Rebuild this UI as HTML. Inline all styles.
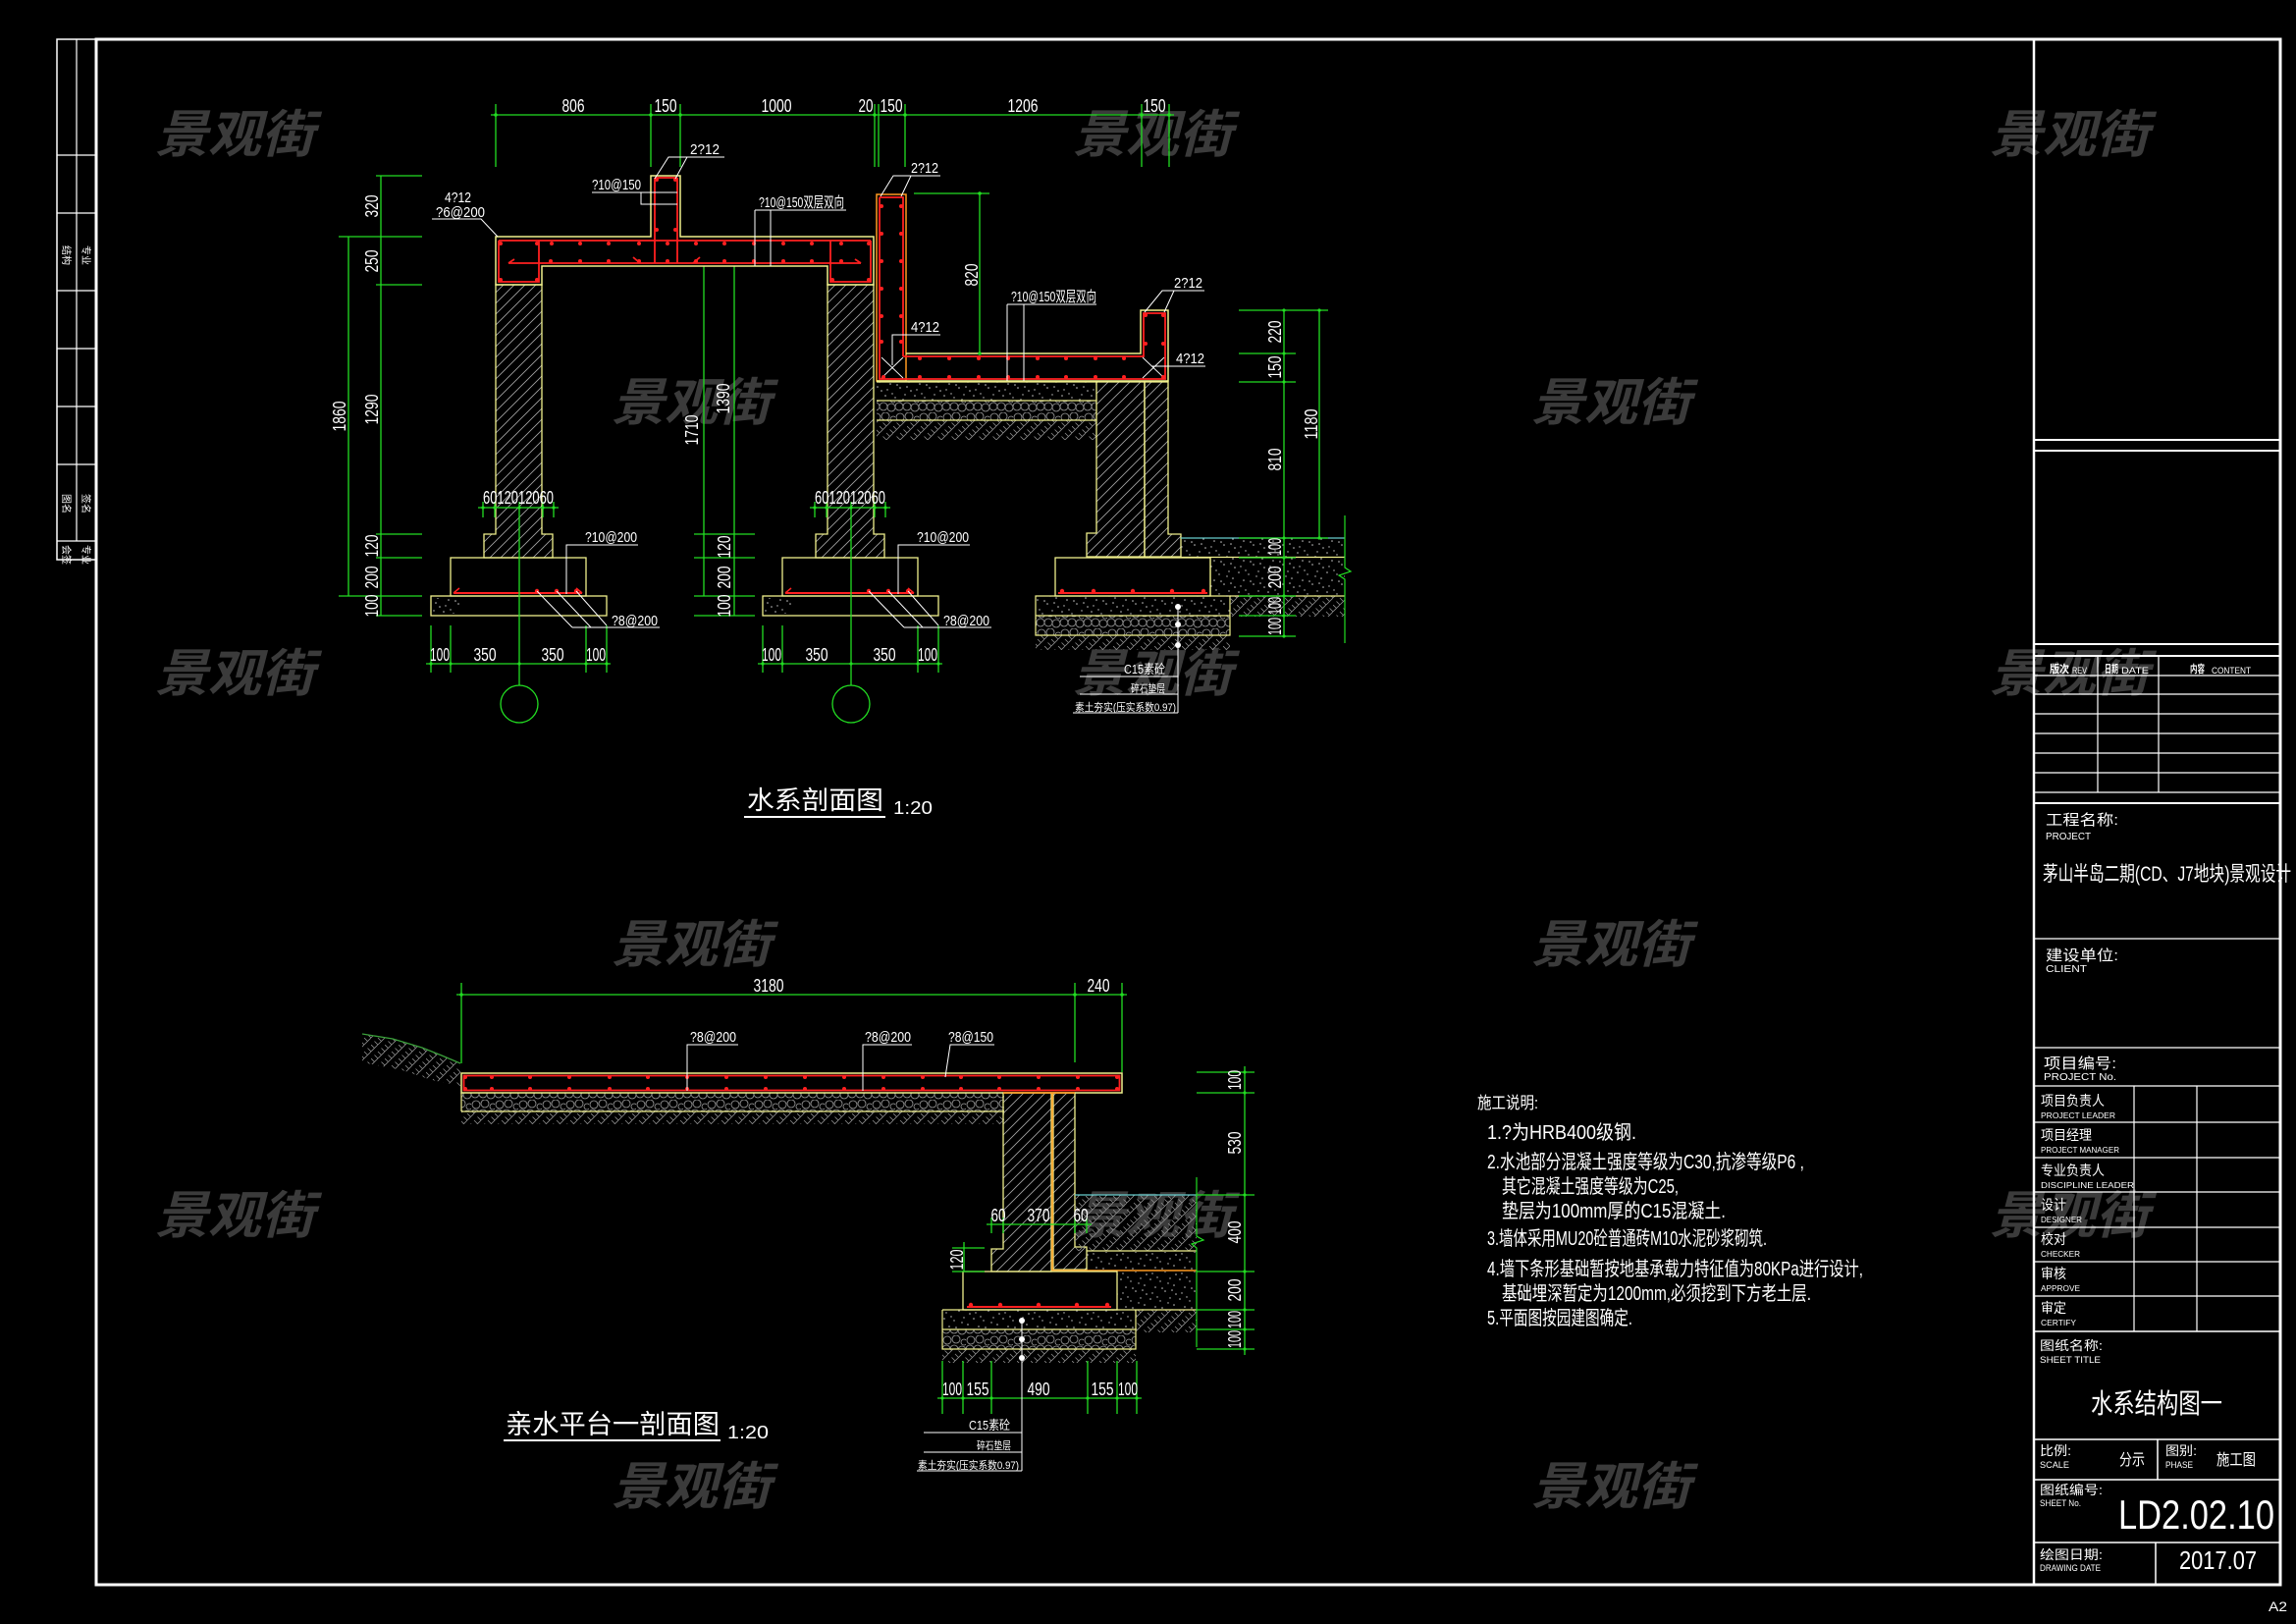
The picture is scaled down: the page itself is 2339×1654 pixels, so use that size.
<!DOCTYPE html>
<html><head><meta charset="utf-8">
<style>
html,body{margin:0;padding:0;background:#000;}
svg{display:block;}
text{font-family:"Liberation Sans","Noto Sans CJK SC",sans-serif;fill:#fff;}
.d{font-size:18px;}
.l{font-size:15px;}
.wm{fill:#3b3b3b;font-size:52px;font-style:italic;font-weight:bold;}
</style></head><body>
<svg width="2339" height="1654" viewBox="0 0 2339 1654" xmlns="http://www.w3.org/2000/svg">
<defs>
 <pattern id="hd" patternUnits="userSpaceOnUse" width="11" height="11">
  <path d="M0,11 L11,0 M-2,2 L2,-2 M9,13 L13,9" stroke="#a6a6a6" stroke-width="0.8"/>
 </pattern>
 <pattern id="hs" patternUnits="userSpaceOnUse" width="14" height="14">
  <path d="M0,7 L7,0 M7,14 L14,7 M0,0 L3.5,3.5 M7,7 L10.5,10.5 M3.5,10.5 L7,14 M10.5,3.5 L14,7" stroke="#8e8e8e" stroke-width="0.8" fill="none"/>
 </pattern>
 <pattern id="sp" patternUnits="userSpaceOnUse" width="30" height="20">
  <g fill="#c4c4c4">
   <circle cx="2" cy="3" r="0.8"/><circle cx="7" cy="11" r="0.8"/><circle cx="12" cy="5" r="0.7"/>
   <circle cx="17" cy="15" r="0.8"/><circle cx="22" cy="2" r="0.7"/><circle cx="26" cy="9" r="0.8"/>
   <circle cx="4" cy="17" r="0.7"/><circle cx="14" cy="12" r="0.8"/><circle cx="20" cy="7" r="0.7"/>
   <circle cx="28" cy="18" r="0.8"/><circle cx="9" cy="1" r="0.7"/><circle cx="24" cy="14" r="0.8"/>
  </g>
 </pattern>
 <pattern id="cb" patternUnits="userSpaceOnUse" width="24" height="20">
  <g stroke="#9c9c9c" stroke-width="0.8" fill="none">
   <circle cx="5" cy="5" r="4"/><circle cx="14" cy="4" r="4"/><circle cx="22" cy="7" r="3"/>
   <circle cx="4" cy="14" r="4"/><circle cx="12" cy="14" r="4"/><circle cx="20" cy="15" r="4"/>
  </g>
 </pattern>
</defs>
<rect width="2339" height="1654" fill="#000"/>

<!-- watermarks -->
<g class="wm" text-anchor="middle">
<text class="wm" x="239" y="155" textLength="162" lengthAdjust="spacingAndGlyphs">景观街</text>
<text class="wm" x="1174" y="155" textLength="162" lengthAdjust="spacingAndGlyphs">景观街</text>
<text class="wm" x="2108" y="155" textLength="162" lengthAdjust="spacingAndGlyphs">景观街</text>
<text class="wm" x="704" y="428" textLength="162" lengthAdjust="spacingAndGlyphs">景观街</text>
<text class="wm" x="1641" y="428" textLength="162" lengthAdjust="spacingAndGlyphs">景观街</text>
<text class="wm" x="239" y="704" textLength="162" lengthAdjust="spacingAndGlyphs">景观街</text>
<text class="wm" x="1174" y="704" textLength="162" lengthAdjust="spacingAndGlyphs">景观街</text>
<text class="wm" x="2108" y="704" textLength="162" lengthAdjust="spacingAndGlyphs">景观街</text>
<text class="wm" x="704" y="980" textLength="162" lengthAdjust="spacingAndGlyphs">景观街</text>
<text class="wm" x="1641" y="980" textLength="162" lengthAdjust="spacingAndGlyphs">景观街</text>
<text class="wm" x="239" y="1256" textLength="162" lengthAdjust="spacingAndGlyphs">景观街</text>
<text class="wm" x="1174" y="1256" textLength="162" lengthAdjust="spacingAndGlyphs">景观街</text>
<text class="wm" x="2108" y="1256" textLength="162" lengthAdjust="spacingAndGlyphs">景观街</text>
<text class="wm" x="704" y="1532" textLength="162" lengthAdjust="spacingAndGlyphs">景观街</text>
<text class="wm" x="1641" y="1532" textLength="162" lengthAdjust="spacingAndGlyphs">景观街</text>
</g>

<!-- ================= FRAME ================= -->
<g stroke="#fff" fill="none">
 <path d="M98,40 H2323 V1614 H98 Z" stroke-width="3"/>
 <rect x="58" y="40" width="40" height="530" stroke-width="1.5"/>
 <line x1="78" y1="40" x2="78" y2="551" stroke-width="1.2"/>
 <path d="M58,158 H98 M58,217 H98 M58,296 H98 M58,355 H98 M58,414 H98 M58,473 H98 M58,551 H98" stroke-width="1.2"/>
 <line x1="2072" y1="40" x2="2072" y2="1614" stroke-width="2.5"/>
 <path d="M2072,448 H2323 M2072,459 H2323 M2072,656 H2323 M2072,668 H2323" stroke-width="2"/>
 <path d="M2072,688 H2323 M2072,707 H2323 M2072,727 H2323 M2072,747 H2323 M2072,767 H2323 M2072,787 H2323 M2072,807 H2323" stroke-width="1.2"/>
 <path d="M2072,818 H2323" stroke-width="2"/>
 <path d="M2137,668 V807 M2199,668 V807" stroke-width="1.2"/>
 <path d="M2072,956 H2323 M2072,1067 H2323 M2072,1106 H2323" stroke-width="1.2"/>
 <path d="M2072,1143 H2323 M2072,1179 H2323 M2072,1214 H2323 M2072,1250 H2323 M2072,1285 H2323 M2072,1320 H2323" stroke-width="1.2"/>
 <path d="M2072,1356 H2323 M2072,1466 H2323 M2072,1507 H2323 M2072,1571 H2323" stroke-width="1.5"/>
 <path d="M2174,1106 V1356 M2238,1106 V1356" stroke-width="1.2"/>
 <path d="M2198,1466 V1507 M2196,1571 V1614" stroke-width="1.5"/>
</g>

<!-- left strip texts -->
<g font-size="10">
 <text x="0" y="0" transform="translate(64,250) rotate(90)">结构</text>
 <text x="0" y="0" transform="translate(84,250) rotate(90)">专业</text>
 <text x="0" y="0" transform="translate(64,503) rotate(90)">图名</text>
 <text x="0" y="0" transform="translate(84,503) rotate(90)">签名</text>
 <text x="0" y="0" transform="translate(64,555) rotate(90)">会签</text>
 <text x="0" y="0" transform="translate(84,555) rotate(90)">专业</text>
</g>

<!-- ================= TITLE BLOCK TEXT ================= -->
<g>
 <text x="2088" y="685" font-size="11" font-weight="bold" textLength="20" lengthAdjust="spacingAndGlyphs">版次</text><text x="2111" y="686" font-size="9" textLength="15" lengthAdjust="spacingAndGlyphs">REV</text>
 <text x="2144" y="685" font-size="11" font-weight="bold" textLength="14" lengthAdjust="spacingAndGlyphs">日期</text><text x="2161" y="686" font-size="9" textLength="28" lengthAdjust="spacingAndGlyphs">DATE</text>
 <text x="2231" y="685" font-size="11" font-weight="bold" textLength="15" lengthAdjust="spacingAndGlyphs">内容</text><text x="2253" y="686" font-size="9" textLength="40" lengthAdjust="spacingAndGlyphs">CONTENT</text>

 <text x="2084" y="840" font-size="15" textLength="74" lengthAdjust="spacingAndGlyphs">工程名称:</text>
 <text x="2084" y="855" font-size="10" textLength="46" lengthAdjust="spacingAndGlyphs">PROJECT</text>
 <text x="2081" y="897" font-size="21" textLength="253" lengthAdjust="spacingAndGlyphs">茅山半岛二期(CD、J7地块)景观设计</text>

 <text x="2084" y="978" font-size="15" textLength="74" lengthAdjust="spacingAndGlyphs">建设单位:</text>
 <text x="2084" y="990" font-size="10" textLength="42" lengthAdjust="spacingAndGlyphs">CLIENT</text>

 <text x="2082" y="1088" font-size="15" textLength="74" lengthAdjust="spacingAndGlyphs">项目编号:</text>
 <text x="2082" y="1100" font-size="10" textLength="74" lengthAdjust="spacingAndGlyphs">PROJECT No.</text>

 <g font-size="14">
  <text x="2079" y="1126" textLength="65" lengthAdjust="spacingAndGlyphs">项目负责人</text>
  <text x="2079" y="1161" textLength="52" lengthAdjust="spacingAndGlyphs">项目经理</text>
  <text x="2079" y="1197" textLength="65" lengthAdjust="spacingAndGlyphs">专业负责人</text>
  <text x="2079" y="1232" textLength="26" lengthAdjust="spacingAndGlyphs">设计</text>
  <text x="2079" y="1267" textLength="26" lengthAdjust="spacingAndGlyphs">校对</text>
  <text x="2079" y="1302" textLength="26" lengthAdjust="spacingAndGlyphs">审核</text>
  <text x="2079" y="1337" textLength="26" lengthAdjust="spacingAndGlyphs">审定</text>
 </g>
 <g font-size="8">
  <text x="2079" y="1139" textLength="76" lengthAdjust="spacingAndGlyphs">PROJECT LEADER</text>
  <text x="2079" y="1174" textLength="80" lengthAdjust="spacingAndGlyphs">PROJECT MANAGER</text>
  <text x="2079" y="1210" textLength="95" lengthAdjust="spacingAndGlyphs">DISCIPLINE LEADER</text>
  <text x="2079" y="1245" textLength="42" lengthAdjust="spacingAndGlyphs">DESIGNER</text>
  <text x="2079" y="1280" textLength="40" lengthAdjust="spacingAndGlyphs">CHECKER</text>
  <text x="2079" y="1315" textLength="40" lengthAdjust="spacingAndGlyphs">APPROVE</text>
  <text x="2079" y="1350" textLength="36" lengthAdjust="spacingAndGlyphs">CERTIFY</text>
 </g>

 <text x="2078" y="1375" font-size="13" textLength="64" lengthAdjust="spacingAndGlyphs">图纸名称:</text>
 <text x="2078" y="1388" font-size="9" textLength="62" lengthAdjust="spacingAndGlyphs">SHEET TITLE</text>
 <text x="2130" y="1439" font-size="28" textLength="134" lengthAdjust="spacingAndGlyphs">水系结构图一</text>

 <text x="2078" y="1482" font-size="13" textLength="32" lengthAdjust="spacingAndGlyphs">比例:</text>
 <text x="2078" y="1495" font-size="9" textLength="30" lengthAdjust="spacingAndGlyphs">SCALE</text>
 <text x="2159" y="1492" font-size="16" textLength="26" lengthAdjust="spacingAndGlyphs">分示</text>
 <text x="2206" y="1482" font-size="13" textLength="32" lengthAdjust="spacingAndGlyphs">图别:</text>
 <text x="2206" y="1495" font-size="9" textLength="28" lengthAdjust="spacingAndGlyphs">PHASE</text>
 <text x="2258" y="1492" font-size="16" textLength="40" lengthAdjust="spacingAndGlyphs">施工图</text>

 <text x="2078" y="1522" font-size="13" textLength="64" lengthAdjust="spacingAndGlyphs">图纸编号:</text>
 <text x="2078" y="1534" font-size="9" textLength="42" lengthAdjust="spacingAndGlyphs">SHEET No.</text>
 <text x="2158" y="1557" font-size="42" fill="#e8e8e8" textLength="159" lengthAdjust="spacingAndGlyphs">LD2.02.10</text>

 <text x="2078" y="1588" font-size="13" textLength="64" lengthAdjust="spacingAndGlyphs">绘图日期:</text>
 <text x="2078" y="1600" font-size="9" textLength="62" lengthAdjust="spacingAndGlyphs">DRAWING DATE</text>
 <text x="2220" y="1598" font-size="26" fill="#e8e8e8" textLength="79" lengthAdjust="spacingAndGlyphs">2017.07</text>

 <text x="2311" y="1641" font-size="14" textLength="19" lengthAdjust="spacingAndGlyphs">A2</text>
</g>

<!-- ================= SECTION 1 : 水系剖面图 ================= -->
<g stroke="#22dd22" stroke-width="1.3" fill="none">
 <line x1="500" y1="117" x2="1196" y2="117"/>
 <path d="M505,106 V170 M663,106 V170 M693,106 V170 M891,106 V170 M895,106 V170 M922,106 V170 M1163,106 V170 M1191,106 V170"/>
</g>
<g fill="#22dd22"><circle cx="505" cy="117" r="1.8"/><circle cx="663" cy="117" r="1.8"/><circle cx="693" cy="117" r="1.8"/><circle cx="891" cy="117" r="1.8"/><circle cx="922" cy="117" r="1.8"/><circle cx="1163" cy="117" r="1.8"/><circle cx="1191" cy="117" r="1.8"/></g>
<g class="d" text-anchor="middle">
 <text class="d" x="584" y="114" textLength="23" lengthAdjust="spacingAndGlyphs">806</text>
 <text class="d" x="678" y="114" textLength="23" lengthAdjust="spacingAndGlyphs">150</text>
 <text class="d" x="791" y="114" textLength="31" lengthAdjust="spacingAndGlyphs">1000</text>
 <text class="d" x="882" y="114" textLength="15" lengthAdjust="spacingAndGlyphs">20</text>
 <text class="d" x="908" y="114" textLength="23" lengthAdjust="spacingAndGlyphs">150</text>
 <text class="d" x="1042" y="114" textLength="31" lengthAdjust="spacingAndGlyphs">1206</text>
 <text class="d" x="1176" y="114" textLength="23" lengthAdjust="spacingAndGlyphs">150</text>
</g>

<g stroke="#22dd22" stroke-width="1.3" fill="none">
 <path d="M355,241 V607 M388,179 V627"/>
 <path d="M383,179 H430 M345,241 H430 M383,290 H430 M383,544 H430 M383,568 H430 M345,607 H430 M383,627 H430"/>
 <path d="M717,271 V607 M748,271 V627"/>
 <path d="M707,544 H769 M707,568 H769 M707,607 H769 M707,627 H769"/>
</g>
<g class="d" text-anchor="middle">
 <text class="d" transform="translate(385,210) rotate(-90)" textLength="23" lengthAdjust="spacingAndGlyphs">320</text>
 <text class="d" transform="translate(385,266) rotate(-90)" textLength="23" lengthAdjust="spacingAndGlyphs">250</text>
 <text class="d" transform="translate(385,417) rotate(-90)" textLength="31" lengthAdjust="spacingAndGlyphs">1290</text>
 <text class="d" transform="translate(385,556) rotate(-90)" textLength="23" lengthAdjust="spacingAndGlyphs">120</text>
 <text class="d" transform="translate(385,588) rotate(-90)" textLength="23" lengthAdjust="spacingAndGlyphs">200</text>
 <text class="d" transform="translate(385,617) rotate(-90)" textLength="23" lengthAdjust="spacingAndGlyphs">100</text>
 <text class="d" transform="translate(352,424) rotate(-90)" textLength="31" lengthAdjust="spacingAndGlyphs">1860</text>
 <text class="d" transform="translate(744,557) rotate(-90)" textLength="23" lengthAdjust="spacingAndGlyphs">120</text>
 <text class="d" transform="translate(744,588) rotate(-90)" textLength="23" lengthAdjust="spacingAndGlyphs">200</text>
 <text class="d" transform="translate(744,617) rotate(-90)" textLength="23" lengthAdjust="spacingAndGlyphs">100</text>
 <text class="d" transform="translate(711,438) rotate(-90)" textLength="31" lengthAdjust="spacingAndGlyphs">1710</text>
 <text class="d" transform="translate(743,406) rotate(-90)" textLength="31" lengthAdjust="spacingAndGlyphs">1390</text>
</g>

<g id="col1">
 <path d="M505,290 L552,290 L552,544 L563,544 L563,568 L493,568 L493,544 L505,544 Z" fill="url(#hd)" stroke="#f0f08c" stroke-width="1.3"/>
 <rect x="459" y="568" width="138" height="39" fill="none" stroke="#f0f08c" stroke-width="1.3"/>
 <rect x="439" y="607" width="179" height="20" fill="none" stroke="#f0f08c" stroke-width="1.3"/>
 <rect x="441" y="609" width="30" height="16" fill="url(#sp)"/>
 <path d="M462,604 H593" stroke="#ff2020" stroke-width="2"/>
 <path d="M462,604 L468,599 M593,604 L587,599" stroke="#ff2020" stroke-width="1.5"/>
 <g fill="#ff2020"><circle cx="547" cy="602" r="2.2"/><circle cx="567" cy="602" r="2.2"/><circle cx="587" cy="602" r="2.2"/></g>
 <g stroke="#22dd22" stroke-width="1.3" fill="none">
  <path d="M487,517 H569"/>
  <path d="M492,511 V527 M504,511 V527 M553,511 V527 M564,511 V527"/>
  <path d="M529,511 V698"/>
  <circle cx="529" cy="717" r="19"/>
  <path d="M434,676 H622"/>
  <path d="M439,637 V685 M459,637 V685 M597,637 V685 M618,637 V685"/>
 </g>
 <g fill="#22dd22"><circle cx="492" cy="517" r="1.6"/><circle cx="504" cy="517" r="1.6"/><circle cx="529" cy="517" r="1.6"/><circle cx="553" cy="517" r="1.6"/><circle cx="564" cy="517" r="1.6"/><circle cx="439" cy="676" r="1.6"/><circle cx="459" cy="676" r="1.6"/><circle cx="529" cy="676" r="1.6"/><circle cx="597" cy="676" r="1.6"/><circle cx="618" cy="676" r="1.6"/></g>
 <text class="d" x="528" y="513" text-anchor="middle" textLength="72" lengthAdjust="spacingAndGlyphs">6012012060</text>
 <text class="d" x="448" y="673" text-anchor="middle" textLength="20" lengthAdjust="spacingAndGlyphs">100</text>
 <text class="d" x="494" y="673" text-anchor="middle" textLength="23" lengthAdjust="spacingAndGlyphs">350</text>
 <text class="d" x="563" y="673" text-anchor="middle" textLength="23" lengthAdjust="spacingAndGlyphs">350</text>
 <text class="d" x="607" y="673" text-anchor="middle" textLength="20" lengthAdjust="spacingAndGlyphs">100</text>
 <g stroke="#fff" stroke-width="1" fill="none">
  <path d="M577,605 V555 H650"/>
  <path d="M547,602 L583,639 M567,602 L602,639 M587,602 L618,637 M583,639 H672"/>
 </g>
 <text class="l" x="596" y="552" textLength="53" lengthAdjust="spacingAndGlyphs">?10@200</text>
 <text class="l" x="623" y="637" textLength="47" lengthAdjust="spacingAndGlyphs">?8@200</text>
</g>
<use href="#col1" transform="translate(338,0)"/>

<path d="M505,241 L663,241 L663,179 L693,179 L693,241 L890,241 L890,290 L843,290 L843,271 L552,271 L552,290 L505,290 Z" fill="none" stroke="#f0f08c" stroke-width="1.5"/>
<g stroke="#ff2020" stroke-width="1.8" fill="none">
 <path d="M508,245 H887 M508,245 V287 H549 V245 M846,245 V287 H887 V245"/>
 <path d="M518,268 H877"/>
 <path d="M667,181 V268 M690,181 V268 M667,181 H690"/>
 <path d="M645,262 L652,268 M713,262 L706,268 M518,268 L524,264 M877,268 L871,264"/>
</g>
<g fill="#ff2020">
 <circle cx="510" cy="248" r="2"/><circle cx="547" cy="248" r="2"/><circle cx="562" cy="248" r="2"/><circle cx="591" cy="248" r="2"/><circle cx="620" cy="248" r="2"/><circle cx="651" cy="248" r="2"/><circle cx="680" cy="248" r="2"/><circle cx="709" cy="248" r="2"/><circle cx="738" cy="248" r="2"/><circle cx="768" cy="248" r="2"/><circle cx="798" cy="248" r="2"/><circle cx="827" cy="248" r="2"/><circle cx="857" cy="248" r="2"/><circle cx="885" cy="248" r="2"/>
 <circle cx="561" cy="266" r="2"/><circle cx="591" cy="266" r="2"/><circle cx="620" cy="266" r="2"/><circle cx="651" cy="266" r="2"/><circle cx="680" cy="266" r="2"/><circle cx="709" cy="266" r="2"/><circle cx="738" cy="266" r="2"/><circle cx="768" cy="266" r="2"/><circle cx="798" cy="266" r="2"/><circle cx="827" cy="266" r="2"/><circle cx="857" cy="266" r="2"/>
 <circle cx="510" cy="285" r="2"/><circle cx="547" cy="285" r="2"/><circle cx="848" cy="285" r="2"/><circle cx="885" cy="285" r="2"/>
 <circle cx="669" cy="183" r="2"/><circle cx="688" cy="183" r="2"/><circle cx="669" cy="234" r="2"/><circle cx="688" cy="234" r="2"/>
</g>
<g stroke="#fff" stroke-width="1" fill="none">
 <path d="M667,182 L681,160 H738 M688,182 L700,160"/>
 <path d="M603,196 H690 M653,196 V208 H690"/>
 <path d="M440,223 H490 L507,241"/>
 <path d="M769,214 H862 M769,214 V271 M785,214 V271"/>
</g>
<text class="l" x="703" y="157" textLength="30" lengthAdjust="spacingAndGlyphs">2?12</text>
<text class="l" x="603" y="193" textLength="50" lengthAdjust="spacingAndGlyphs">?10@150</text>
<text class="l" x="453" y="206" textLength="27" lengthAdjust="spacingAndGlyphs">4?12</text>
<text class="l" x="444" y="221" textLength="50" lengthAdjust="spacingAndGlyphs">?6@200</text>
<text class="l" x="773" y="211" textLength="87" lengthAdjust="spacingAndGlyphs">?10@150双层双向</text>

<g>
 <rect x="893" y="198" width="30" height="190" fill="none" stroke="#ff9a20" stroke-width="1.5"/>
 <path d="M923,360 L1162,360 L1162,316 L1190,316 L1190,388 L893,388" fill="none" stroke="#f0f08c" stroke-width="1.5"/>
 <g stroke="#ff2020" stroke-width="1.8" fill="none">
  <path d="M896,201 H920 V363 M896,201 V386 H1187 V319 H1165 V363 H920"/>
 </g>
 <g stroke="#fff" stroke-width="0.9">
  <path d="M898,364 L920,385 M920,364 L898,385 M1164,364 L1186,385 M1186,364 L1164,385"/>
 </g>
 <g fill="#ff2020">
  <circle cx="898" cy="210" r="2"/><circle cx="918" cy="210" r="2"/><circle cx="898" cy="238" r="2"/><circle cx="918" cy="238" r="2"/><circle cx="898" cy="266" r="2"/><circle cx="918" cy="266" r="2"/><circle cx="898" cy="294" r="2"/><circle cx="918" cy="294" r="2"/><circle cx="898" cy="322" r="2"/><circle cx="918" cy="322" r="2"/><circle cx="898" cy="348" r="2"/><circle cx="918" cy="348" r="2"/>
  <circle cx="937" cy="365" r="2"/><circle cx="967" cy="365" r="2"/><circle cx="997" cy="365" r="2"/><circle cx="1027" cy="365" r="2"/><circle cx="1057" cy="365" r="2"/><circle cx="1086" cy="365" r="2"/><circle cx="1116" cy="365" r="2"/><circle cx="1145" cy="365" r="2"/>
  <circle cx="900" cy="384" r="2"/><circle cx="937" cy="384" r="2"/><circle cx="967" cy="384" r="2"/><circle cx="997" cy="384" r="2"/><circle cx="1027" cy="384" r="2"/><circle cx="1057" cy="384" r="2"/><circle cx="1086" cy="384" r="2"/><circle cx="1116" cy="384" r="2"/><circle cx="1145" cy="384" r="2"/><circle cx="1185" cy="384" r="2"/>
  <circle cx="1167" cy="321" r="2"/><circle cx="1185" cy="321" r="2"/><circle cx="1167" cy="350" r="2"/><circle cx="1185" cy="350" r="2"/>
 </g>
 <rect x="893" y="389" width="224" height="19" fill="url(#sp)"/>
 <rect x="893" y="408" width="224" height="20" fill="url(#cb)"/>
 <rect x="893" y="428" width="224" height="20" fill="url(#hs)"/>
 <path d="M893,389 H1117 M893,408 H1117 M893,428 H1117" stroke="#f0f08c" stroke-width="1.2"/>
 <path d="M1117,389 L1166,389 L1166,567 L1107,567 L1107,543 L1117,543 Z" fill="url(#hd)" stroke="#f0f08c" stroke-width="1.3"/>
 <path d="M1166,389 L1190,389 L1190,544 L1203,544 L1203,567 L1166,567 Z" fill="url(#hd)" stroke="#f0f08c" stroke-width="1.3"/>
 <rect x="1075" y="568" width="158" height="39" fill="none" stroke="#f0f08c" stroke-width="1.3"/>
 <path d="M1078,604 H1230" stroke="#ff2020" stroke-width="2"/>
 <g fill="#ff2020"><circle cx="1082" cy="602" r="2.2"/><circle cx="1114" cy="602" r="2.2"/><circle cx="1154" cy="602" r="2.2"/><circle cx="1194" cy="602" r="2.2"/><circle cx="1226" cy="602" r="2.2"/></g>
 <rect x="1055" y="607" width="198" height="20" fill="url(#sp)"/>
 <rect x="1055" y="627" width="198" height="20" fill="url(#cb)"/>
 <rect x="1055" y="647" width="198" height="15" fill="url(#hs)"/>
 <path d="M1055,607 H1253 V647 H1055 Z M1055,627 H1253" fill="none" stroke="#f0f08c" stroke-width="1.2"/>
 <rect x="1203" y="548" width="167" height="19" fill="url(#sp)"/>
 <rect x="1233" y="568" width="137" height="39" fill="url(#sp)"/>
 <rect x="1253" y="607" width="117" height="21" fill="url(#hs)"/>
 <path d="M1203,548 H1370" stroke="#66cccc" stroke-width="1.2"/>
 <path d="M1190,567.5 H1370 M1233,568 V607 M1253,607 H1370" stroke="#f0f08c" stroke-width="1.2" fill="none"/>
 <path d="M1370,525 V578 L1376,582 L1364,586 L1370,590 V655" stroke="#22dd22" stroke-width="1.2" fill="none"/>
</g>
<g stroke="#fff" stroke-width="1" fill="none">
 <path d="M897,200 L910,179 H958 M918,200 L928,179"/>
 <path d="M909,372 V341 H958"/>
 <path d="M1173,373 H1228"/>
 <path d="M1166,318 L1184,296 H1227 M1186,318 L1196,296"/>
 <path d="M1026,310 H1117 M1026,310 V388 M1043,310 V388"/>
</g>
<text class="l" x="928" y="176" textLength="28" lengthAdjust="spacingAndGlyphs">2?12</text>
<text class="l" x="928" y="338" textLength="29" lengthAdjust="spacingAndGlyphs">4?12</text>
<text class="l" x="1198" y="370" textLength="29" lengthAdjust="spacingAndGlyphs">4?12</text>
<text class="l" x="1196" y="293" textLength="29" lengthAdjust="spacingAndGlyphs">2?12</text>
<text class="l" x="1030" y="307" textLength="87" lengthAdjust="spacingAndGlyphs">?10@150双层双向</text>

<g stroke="#22dd22" stroke-width="1.3" fill="none">
 <path d="M998,197 V360 M931,197 H1008"/>
 <path d="M1308,316 V648 M1344,316 V548"/>
 <path d="M1262,316 H1353 M1262,360 H1320 M1262,389 H1320 M1262,548 H1353 M1262,568 H1320 M1262,607 H1320 M1262,627 H1320 M1262,648 H1320"/>
</g>
<g fill="#22dd22"><circle cx="998" cy="197" r="1.8"/><circle cx="998" cy="360" r="1.8"/><circle cx="1308" cy="316" r="1.6"/><circle cx="1308" cy="360" r="1.6"/><circle cx="1308" cy="389" r="1.6"/><circle cx="1308" cy="548" r="1.6"/><circle cx="1308" cy="568" r="1.6"/><circle cx="1308" cy="607" r="1.6"/><circle cx="1308" cy="627" r="1.6"/><circle cx="1308" cy="648" r="1.6"/><circle cx="1344" cy="316" r="1.6"/><circle cx="1344" cy="548" r="1.6"/></g>
<g class="d" text-anchor="middle">
 <text class="d" transform="translate(996,280) rotate(-90)" textLength="23" lengthAdjust="spacingAndGlyphs">820</text>
 <text class="d" transform="translate(1305,338) rotate(-90)" textLength="23" lengthAdjust="spacingAndGlyphs">220</text>
 <text class="d" transform="translate(1305,374) rotate(-90)" textLength="23" lengthAdjust="spacingAndGlyphs">150</text>
 <text class="d" transform="translate(1305,468) rotate(-90)" textLength="23" lengthAdjust="spacingAndGlyphs">810</text>
 <text class="d" transform="translate(1305,557) rotate(-90)" textLength="18" lengthAdjust="spacingAndGlyphs">100</text>
 <text class="d" transform="translate(1305,588) rotate(-90)" textLength="23" lengthAdjust="spacingAndGlyphs">200</text>
 <text class="d" transform="translate(1305,617) rotate(-90)" textLength="18" lengthAdjust="spacingAndGlyphs">100</text>
 <text class="d" transform="translate(1305,638) rotate(-90)" textLength="18" lengthAdjust="spacingAndGlyphs">100</text>
 <text class="d" transform="translate(1342,432) rotate(-90)" textLength="31" lengthAdjust="spacingAndGlyphs">1180</text>
</g>
<g stroke="#fff" stroke-width="1" fill="none">
 <path d="M1200,618 V726 M1100,689 H1200 M1100,707 H1200 M1093,726 H1200"/>
</g>
<g fill="#fff"><circle cx="1200" cy="618" r="3"/><circle cx="1200" cy="636" r="3"/><circle cx="1200" cy="657" r="3"/></g>
<text x="1145" y="686" font-size="13" textLength="42" lengthAdjust="spacingAndGlyphs">C15素砼</text>
<text x="1152" y="705" font-size="11" textLength="35" lengthAdjust="spacingAndGlyphs">碎石垫层</text>
<text x="1095" y="724" font-size="11" textLength="103" lengthAdjust="spacingAndGlyphs">素土夯实(压实系数0.97)</text>

<text x="761" y="824" font-size="26" textLength="139" lengthAdjust="spacingAndGlyphs">水系剖面图</text>
<line x1="758" y1="832" x2="902" y2="832" stroke="#fff" stroke-width="2"/>
<text x="910" y="829" font-size="18" textLength="40" lengthAdjust="spacingAndGlyphs">1:20</text>

<!-- ================= SECTION 2 ================= -->
<g stroke="#22dd22" stroke-width="1.3" fill="none">
 <path d="M465,1013 H1148"/>
 <path d="M470,1001 V1083 M1095,1001 V1082 M1143,1001 V1092"/>
</g>
<g fill="#22dd22"><circle cx="470" cy="1013" r="1.8"/><circle cx="1095" cy="1013" r="1.8"/><circle cx="1143" cy="1013" r="1.8"/></g>
<text class="d" x="783" y="1010" text-anchor="middle" textLength="31" lengthAdjust="spacingAndGlyphs">3180</text>
<text class="d" x="1119" y="1010" text-anchor="middle" textLength="23" lengthAdjust="spacingAndGlyphs">240</text>

<path d="M369,1053 L400,1058 L430,1067 L450,1075 L469,1083 L469,1106 L440,1100 L410,1090 L369,1082 Z" fill="url(#hs)"/>
<path d="M369,1053 L400,1058 L430,1067 L450,1075 L469,1083" fill="none" stroke="#3aa03a" stroke-width="1.3"/>

<rect x="470" y="1113" width="553" height="19" fill="url(#cb)"/>
<rect x="470" y="1132" width="553" height="13" fill="url(#hs)"/>
<path d="M470,1132 H1023 M470,1113 V1132" stroke="#f0f08c" stroke-width="1.2" fill="none"/>
<rect x="470" y="1093" width="673" height="20" fill="none" stroke="#f0f08c" stroke-width="1.5"/>
<rect x="472.5" y="1095.5" width="668" height="15" fill="none" stroke="#ff2020" stroke-width="1.8"/>
<g fill="#ff2020">
 <circle cx="474" cy="1097" r="2"/><circle cx="501" cy="1097" r="2"/><circle cx="540" cy="1097" r="2"/><circle cx="580" cy="1097" r="2"/><circle cx="621" cy="1097" r="2"/><circle cx="660" cy="1097" r="2"/><circle cx="700" cy="1097" r="2"/><circle cx="740" cy="1097" r="2"/><circle cx="780" cy="1097" r="2"/><circle cx="820" cy="1097" r="2"/><circle cx="860" cy="1097" r="2"/><circle cx="900" cy="1097" r="2"/><circle cx="940" cy="1097" r="2"/><circle cx="979" cy="1097" r="2"/><circle cx="1018" cy="1097" r="2"/><circle cx="1058" cy="1097" r="2"/><circle cx="1098" cy="1097" r="2"/><circle cx="1138" cy="1097" r="2"/>
 <circle cx="474" cy="1109" r="2"/><circle cx="501" cy="1109" r="2"/><circle cx="540" cy="1109" r="2"/><circle cx="580" cy="1109" r="2"/><circle cx="621" cy="1109" r="2"/><circle cx="660" cy="1109" r="2"/><circle cx="700" cy="1109" r="2"/><circle cx="740" cy="1109" r="2"/><circle cx="780" cy="1109" r="2"/><circle cx="820" cy="1109" r="2"/><circle cx="860" cy="1109" r="2"/><circle cx="900" cy="1109" r="2"/><circle cx="940" cy="1109" r="2"/><circle cx="979" cy="1109" r="2"/><circle cx="1018" cy="1109" r="2"/><circle cx="1058" cy="1109" r="2"/><circle cx="1098" cy="1109" r="2"/><circle cx="1138" cy="1109" r="2"/>
</g>
<g stroke="#fff" stroke-width="1" fill="none">
 <path d="M700,1111 V1064 H752"/>
 <path d="M879,1111 V1064 H929"/>
 <path d="M963,1097 L968,1064 H1013"/>
</g>
<text class="l" x="703" y="1061" textLength="47" lengthAdjust="spacingAndGlyphs">?8@200</text>
<text class="l" x="881" y="1061" textLength="47" lengthAdjust="spacingAndGlyphs">?8@200</text>
<text class="l" x="966" y="1061" textLength="46" lengthAdjust="spacingAndGlyphs">?8@150</text>

<path d="M1022,1113 L1071,1113 L1071,1295 L1010,1295 L1010,1272 L1022,1272 Z" fill="url(#hd)" stroke="#f0f08c" stroke-width="1.3"/>
<path d="M1073,1113 L1095,1113 L1095,1270 L1107,1270 L1107,1293 L1073,1293 Z" fill="url(#hd)" stroke="#f0f08c" stroke-width="1.3"/>
<path d="M1022,1113 H1095 M1072,1113 V1294 H1219" stroke="#ff9a20" stroke-width="1.5" fill="none"/>
<rect x="1095" y="1217" width="124" height="57" fill="url(#hs)"/>
<path d="M1095,1217 H1219" stroke="#66cccc" stroke-width="1.2"/>
<rect x="1107" y="1275" width="112" height="18" fill="url(#sp)"/>
<path d="M1107,1274 H1219" stroke="#f0f08c" stroke-width="1.2"/>
<rect x="1138" y="1295" width="81" height="39" fill="url(#sp)"/>
<rect x="981" y="1295" width="157" height="39" fill="none" stroke="#f0f08c" stroke-width="1.3"/>
<path d="M985,1331 H1132" stroke="#ff2020" stroke-width="2"/>
<g fill="#ff2020"><circle cx="989" cy="1329" r="2.2"/><circle cx="1019" cy="1329" r="2.2"/><circle cx="1058" cy="1329" r="2.2"/><circle cx="1097" cy="1329" r="2.2"/><circle cx="1128" cy="1329" r="2.2"/></g>
<rect x="960" y="1334" width="197" height="20" fill="url(#sp)"/>
<rect x="960" y="1354" width="197" height="20" fill="url(#cb)"/>
<rect x="960" y="1374" width="197" height="14" fill="url(#hs)"/>
<rect x="1157" y="1334" width="62" height="23" fill="url(#hs)"/>
<path d="M960,1334 H1219 M960,1334 V1374 H1157 V1334 M960,1354 H1157" stroke="#f0f08c" stroke-width="1.2" fill="none"/>
<path d="M1219,1199 V1259 L1226,1263 L1214,1267 L1219,1271 V1372" stroke="#22dd22" stroke-width="1.2" fill="none"/>

<g stroke="#22dd22" stroke-width="1.3" fill="none">
 <path d="M1268,1086 V1380"/>
 <path d="M1219,1092 H1278 M1219,1113 H1278 M1219,1217 H1278 M1219,1295 H1278 M1219,1334 H1278 M1219,1354 H1278 M1219,1374 H1278"/>
 <path d="M1005,1247 H1112 M1010,1240 V1256 M1022,1240 V1256 M1095,1240 V1256 M1107,1240 V1256"/>
 <path d="M982,1265 V1295 M970,1271 H1003 M970,1295 H1003"/>
 <path d="M955,1424 H1163"/>
 <path d="M960,1386 V1440 M981,1386 V1440 M1010,1386 V1440 M1108,1386 V1440 M1138,1386 V1440 M1158,1386 V1440"/>
</g>
<g fill="#22dd22"><circle cx="1268" cy="1092" r="1.6"/><circle cx="1268" cy="1113" r="1.6"/><circle cx="1268" cy="1217" r="1.6"/><circle cx="1268" cy="1295" r="1.6"/><circle cx="1268" cy="1334" r="1.6"/><circle cx="1268" cy="1354" r="1.6"/><circle cx="1268" cy="1374" r="1.6"/><circle cx="960" cy="1424" r="1.6"/><circle cx="981" cy="1424" r="1.6"/><circle cx="1010" cy="1424" r="1.6"/><circle cx="1108" cy="1424" r="1.6"/><circle cx="1138" cy="1424" r="1.6"/><circle cx="1158" cy="1424" r="1.6"/></g>
<g class="d" text-anchor="middle">
 <text class="d" transform="translate(1264,1100) rotate(-90)" textLength="20" lengthAdjust="spacingAndGlyphs">100</text>
 <text class="d" transform="translate(1264,1164) rotate(-90)" textLength="23" lengthAdjust="spacingAndGlyphs">530</text>
 <text class="d" transform="translate(1264,1255) rotate(-90)" textLength="23" lengthAdjust="spacingAndGlyphs">400</text>
 <text class="d" transform="translate(1264,1314) rotate(-90)" textLength="23" lengthAdjust="spacingAndGlyphs">200</text>
 <text class="d" transform="translate(1264,1344) rotate(-90)" textLength="18" lengthAdjust="spacingAndGlyphs">100</text>
 <text class="d" transform="translate(1264,1364) rotate(-90)" textLength="18" lengthAdjust="spacingAndGlyphs">100</text>
 <text class="d" transform="translate(981,1283) rotate(-90)" textLength="21" lengthAdjust="spacingAndGlyphs">120</text>
 <text class="d" x="1017" y="1244" textLength="15" lengthAdjust="spacingAndGlyphs">60</text>
 <text class="d" x="1058" y="1244" textLength="23" lengthAdjust="spacingAndGlyphs">370</text>
 <text class="d" x="1101" y="1244" textLength="15" lengthAdjust="spacingAndGlyphs">60</text>
 <text class="d" x="970" y="1421" textLength="20" lengthAdjust="spacingAndGlyphs">100</text>
 <text class="d" x="996" y="1421" textLength="23" lengthAdjust="spacingAndGlyphs">155</text>
 <text class="d" x="1058" y="1421" textLength="23" lengthAdjust="spacingAndGlyphs">490</text>
 <text class="d" x="1123" y="1421" textLength="23" lengthAdjust="spacingAndGlyphs">155</text>
 <text class="d" x="1149" y="1421" textLength="20" lengthAdjust="spacingAndGlyphs">100</text>
</g>
<g stroke="#fff" stroke-width="1" fill="none">
 <path d="M1041,1345 V1498 M941,1459 H1041 M941,1479 H1041 M934,1498 H1041"/>
</g>
<g fill="#fff"><circle cx="1041" cy="1345" r="3"/><circle cx="1041" cy="1364" r="3"/><circle cx="1041" cy="1383" r="3"/></g>
<text x="987" y="1456" font-size="13" textLength="42" lengthAdjust="spacingAndGlyphs">C15素砼</text>
<text x="995" y="1476" font-size="11" textLength="35" lengthAdjust="spacingAndGlyphs">碎石垫层</text>
<text x="935" y="1496" font-size="11" textLength="103" lengthAdjust="spacingAndGlyphs">素土夯实(压实系数0.97)</text>

<text x="515" y="1460" font-size="27" textLength="218" lengthAdjust="spacingAndGlyphs">亲水平台一剖面图</text>
<line x1="513" y1="1467" x2="734" y2="1467" stroke="#fff" stroke-width="2"/>
<text x="741" y="1465" font-size="18" textLength="42" lengthAdjust="spacingAndGlyphs">1:20</text>

<!-- ================= NOTES ================= -->
<g font-size="20">
 <text x="1505" y="1129" font-size="17" textLength="62" lengthAdjust="spacingAndGlyphs">施工说明:</text>
 <text x="1515" y="1160" textLength="152" lengthAdjust="spacingAndGlyphs">1.?为HRB400级钢.</text>
 <text x="1515" y="1190" textLength="323" lengthAdjust="spacingAndGlyphs">2.水池部分混凝土强度等级为C30,抗渗等级P6 ,</text>
 <text x="1530" y="1215" textLength="180" lengthAdjust="spacingAndGlyphs">其它混凝土强度等级为C25,</text>
 <text x="1530" y="1240" textLength="228" lengthAdjust="spacingAndGlyphs">垫层为100mm厚的C15混凝土.</text>
 <text x="1515" y="1268" textLength="285" lengthAdjust="spacingAndGlyphs">3.墙体采用MU20砼普通砖M10水泥砂浆砌筑.</text>
 <text x="1515" y="1299" textLength="383" lengthAdjust="spacingAndGlyphs">4.墙下条形基础暂按地基承载力特征值为80KPa进行设计,</text>
 <text x="1530" y="1324" textLength="315" lengthAdjust="spacingAndGlyphs">基础埋深暂定为1200mm,必须挖到下方老土层.</text>
 <text x="1515" y="1349" textLength="148" lengthAdjust="spacingAndGlyphs">5.平面图按园建图确定.</text>
</g>
</svg>
</body></html>
